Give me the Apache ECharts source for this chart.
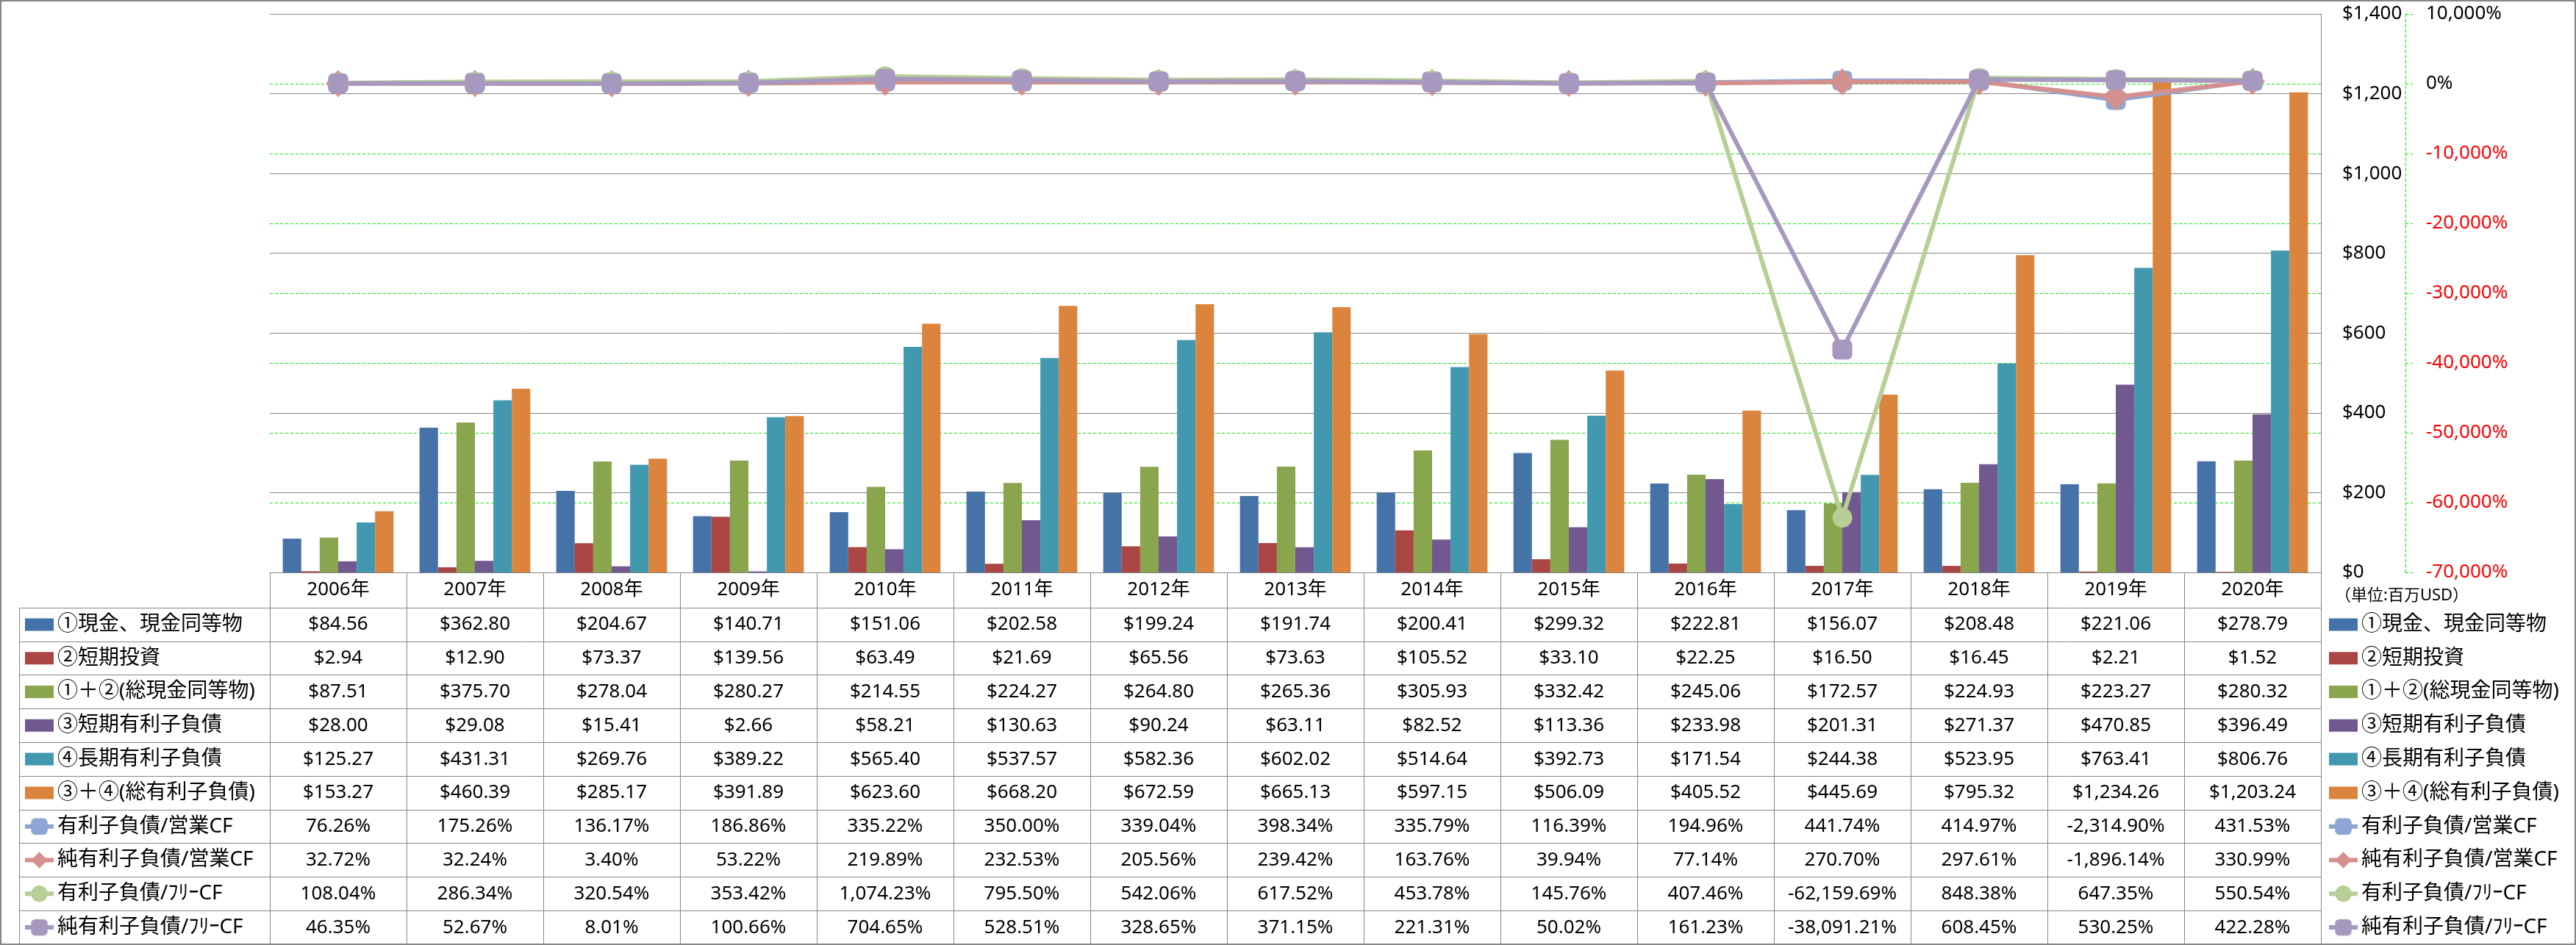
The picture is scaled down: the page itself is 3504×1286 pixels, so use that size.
<!DOCTYPE html>
<html><head><meta charset="utf-8">
<script src="https://cdn.jsdelivr.net/npm/echarts@6/dist/echarts.min.js"></script>
<style>html,body{margin:0;padding:0;background:#fff}#c{width:3504px;height:1286px}</style>
</head><body><div id="c"></div>
<script>
const years = ['2006年','2007年','2008年','2009年','2010年','2011年','2012年','2013年','2014年','2015年','2016年','2017年','2018年','2019年','2020年'];
const cash = [84.56,362.80,204.67,140.71,151.06,202.58,199.24,191.74,200.41,299.32,222.81,156.07,208.48,221.06,278.79];
const shortInv = [2.94,12.90,73.37,139.56,63.49,21.69,65.56,73.63,105.52,33.10,22.25,16.50,16.45,2.21,1.52];
const totalCash = [87.51,375.70,278.04,280.27,214.55,224.27,264.80,265.36,305.93,332.42,245.06,172.57,224.93,223.27,280.32];
const shortDebt = [28.00,29.08,15.41,2.66,58.21,130.63,90.24,63.11,82.52,113.36,233.98,201.31,271.37,470.85,396.49];
const longDebt = [125.27,431.31,269.76,389.22,565.40,537.57,582.36,602.02,514.64,392.73,171.54,244.38,523.95,763.41,806.76];
const totalDebt = [153.27,460.39,285.17,391.89,623.60,668.20,672.59,665.13,597.15,506.09,405.52,445.69,795.32,1234.26,1203.24];
const debtOpCF = [76.26,175.26,136.17,186.86,335.22,350.00,339.04,398.34,335.79,116.39,194.96,441.74,414.97,-2314.90,431.53];
const netDebtOpCF = [32.72,32.24,3.40,53.22,219.89,232.53,205.56,239.42,163.76,39.94,77.14,270.70,297.61,-1896.14,330.99];
const debtFreeCF = [108.04,286.34,320.54,353.42,1074.23,795.50,542.06,617.52,453.78,145.76,407.46,-62159.69,848.38,647.35,550.54];
const netDebtFreeCF = [46.35,52.67,8.01,100.66,704.65,528.51,328.65,371.15,221.31,50.02,161.23,-38091.21,608.45,530.25,422.28];

const names = ['①現金、現金同等物','②短期投資','①＋②(総現金同等物)','③短期有利子負債','④長期有利子負債','③＋④(総有利子負債)','有利子負債/営業CF','純有利子負債/営業CF','有利子負債/ﾌﾘｰCF','純有利子負債/ﾌﾘｰCF'];
const barData = [cash, shortInv, totalCash, shortDebt, longDebt, totalDebt];
const lineData = [debtOpCF, netDebtOpCF, debtFreeCF, netDebtFreeCF];
const usdTicks = [0,200,400,600,800,1000,1200,1400];
const pctTicks = [-70000,-60000,-50000,-40000,-30000,-20000,-10000,0,10000];

const barColors = ['#4572A7','#AA4643','#89A54E','#71588F','#4198AF','#DB843D'];
const lineColors = ['#8DA6D3','#D4908E','#B7CE95','#A698BE'];
const lineSymbols = ['roundRect','diamond','circle','roundRect'];
const lineSymbolSizes = [27,[34,37],27,27];

const FONT = "'Noto Sans', 'Noto Sans CJK JP', sans-serif";
const GRAY = '#868686';
const GREEN = '#00F000';
const ROWH = 45.8, HEADH = 48;

const f2 = v => v.toLocaleString('en-US',{minimumFractionDigits:2,maximumFractionDigits:2});
const rowStr = [
  ...barData.map(a => a.map(v => '$' + f2(v))),
  ...lineData.map(a => a.map(v => f2(v) + '%'))
];

const lbl = {fontSize:26, color:'#000', fontFamily:FONT};
const xAxes = [{
  type:'category', gridIndex:0, data:years, position:'bottom',
  axisLine:{onZero:false,lineStyle:{color:GRAY,width:1}},
  axisTick:{show:true,length:HEADH,lineStyle:{color:GRAY}},
  axisLabel:Object.assign({interval:0,margin:24,verticalAlign:'middle'},lbl),
  splitLine:{show:false}
}];
for (let r=0;r<=10;r++){
  xAxes.push({
    type:'category', gridIndex:0, data:years, position:'bottom', offset:HEADH + r*ROWH,
    axisLine:{onZero:false,lineStyle:{color:GRAY,width:1}},
    axisTick:{show:r<10,length:ROWH,lineStyle:{color:GRAY}},
    axisLabel:Object.assign({show:r<10,interval:0,margin:ROWH/2,verticalAlign:'middle',
      formatter:(v,i)=> r<10 ? rowStr[r][i] : ''},lbl),
    splitLine:{show:false}
  });
  xAxes.push({
    type:'category', gridIndex:1, data:[''], position:'bottom', offset:HEADH + r*ROWH,
    axisLine:{onZero:false,lineStyle:{color:GRAY,width:1}},
    axisTick:{show:r<10,length:ROWH,lineStyle:{color:GRAY}},
    axisLabel:{show:false}, splitLine:{show:false}
  });
}

const series = [];
barData.forEach((d,i)=>series.push({
  name:names[i], type:'bar', xAxisIndex:0, yAxisIndex:0, data:d,
  barGap:'0%', barCategoryGap:'19%', itemStyle:{color:barColors[i]}
}));
lineData.forEach((d,i)=>series.push({
  name:names[6+i], type:'line', xAxisIndex:0, yAxisIndex:1, data:d,
  symbol:lineSymbols[i], symbolSize:lineSymbolSizes[i], showAllSymbol:true,
  lineStyle:{color:lineColors[i],width:6}, itemStyle:{color:lineColors[i]}, z:3+i
}));

const BAR_ICON = 'path://M0,0H39V17H0Z';
const legendData = names.map((n,i)=> i<6 ? {name:n, icon:BAR_ICON} : {name:n});
const legendBase = {
  orient:'vertical', top:827 + (ROWH-28)/2, itemGap:ROWH-28, itemWidth:39, itemHeight:28, padding:0,
  symbolKeepAspect:true, lineStyle:{width:6},
  textStyle:{fontSize:28, lineHeight:28, fontFamily:FONT, color:'#000'}, data:legendData
};

const option = {
  animation:false,
  backgroundColor:'#fff',
  grid:[
    {left:367, top:19, width:2790, height:760, containLabel:false, outerBoundsMode:'none'},
    {left:26, top:19, width:341, height:760, containLabel:false, outerBoundsMode:'none'}
  ],
  title:{text:'（単位:百万USD）', left:3176, top:800, padding:0,
    textStyle:{fontSize:22, fontWeight:'normal', fontFamily:FONT, color:'#000'}},
  legend:[Object.assign({left:31},legendBase), Object.assign({left:3165},legendBase)],
  xAxis:xAxes,
  yAxis:[
    {type:'value', gridIndex:0, position:'right', z:1, min:usdTicks[0], max:usdTicks[usdTicks.length-1], interval:usdTicks[1]-usdTicks[0],
      axisLine:{show:true,lineStyle:{color:GRAY,width:1}}, axisTick:{show:false},
      axisLabel:Object.assign({margin:29, formatter:v=>'$'+v.toLocaleString('en-US')},lbl),
      splitLine:{show:true,lineStyle:{color:GRAY,width:1}}},
    {type:'value', gridIndex:0, position:'right', z:0, offset:115, min:pctTicks[0], max:pctTicks[pctTicks.length-1], interval:pctTicks[1]-pctTicks[0],
      axisLine:{show:true,lineStyle:{color:GREEN,width:1,type:[4,3]}},
      axisTick:{show:true,length:10,lineStyle:{color:GREEN,width:1,type:[4,3]}},
      axisLabel:{margin:28, fontSize:26, fontFamily:FONT, formatter:v=>v.toLocaleString('en-US')+'%',
        color:(v)=> Number(v)<0 ? '#FF0000' : '#000'},
      splitLine:{show:true,lineStyle:{color:GREEN,width:1,type:[4,3]}}},
    {type:'value', gridIndex:1, show:false}
  ],
  graphic:[{type:'rect', silent:true, z:100, shape:{x:1,y:1,width:3502,height:1284}, style:{fill:'none',stroke:GRAY,lineWidth:2}}],
  series:series
};
const chart = echarts.init(document.getElementById('c'), null, {renderer:'canvas'});
chart.setOption(option);
</script></body></html>
